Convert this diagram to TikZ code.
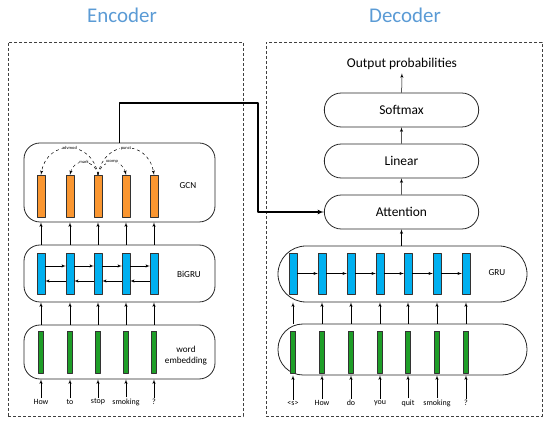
\documentclass[tikz,border=0pt]{standalone}
\usepackage[x11names, svgnames, rgb]{xcolor}
\usepackage{fontspec}
\setmainfont{Carlito}
\usepackage{tikz}
\usetikzlibrary{arrows,shapes}

\definecolor{TitleBlue}{RGB}{91,155,213}
\definecolor{BarOrange}{RGB}{250,150,48}
\definecolor{BarBlue}{RGB}{0,176,240}
\definecolor{BarGreen}{RGB}{30,158,40}

\tikzset{
  frame/.style={draw=black!75,dash pattern=on 3bp off 2bp,line width=0.6bp,rectangle},
  layer/.style={draw=black!85,line width=0.8bp,rectangle,rounded corners=16bp},
  block/.style={draw=black!85,line width=0.8bp,rounded rectangle,
    minimum width=161bp,minimum height=34bp,font=\fontsize{13.5}{15}\selectfont},
  orangebar/.style={draw=black!80,fill=BarOrange,line width=0.4bp,
    minimum width=8bp,minimum height=42bp,inner sep=0pt},
  bluebar/.style={draw=black!80,fill=BarBlue,line width=0.4bp,
    minimum width=8bp,minimum height=41bp,inner sep=0pt},
  greenbar/.style={draw=black!80,fill=BarGreen,line width=0.4bp,
    minimum width=5bp,minimum height=42bp,inner sep=0pt},
  word/.style={font=\fontsize{8}{9}\selectfont,inner sep=1bp},
  tag/.style={font=\fontsize{9.2}{11}\selectfont},
  dep/.style={font=\fontsize{4.5}{5}\selectfont,fill=white,inner sep=0.4bp},
}

\begin{document}
\begin{tikzpicture}[>=latex',line join=bevel,line width=0.5bp]
\useasboundingbox (0bp,0bp) rectangle (550bp,425bp);
%%
\node (title_enc) at (122bp,410bp)
  [text=TitleBlue,font=\fontsize{21}{24}\selectfont] {Encoder};
\node (title_dec) at (405bp,410bp)
  [text=TitleBlue,font=\fontsize{21}{24}\selectfont] {Decoder};
\node (frame_enc) at (125.5bp,196bp)
  [frame,minimum width=235bp,minimum height=374bp] {};
\node (frame_dec) at (404bp,196bp)
  [frame,minimum width=276bp,minimum height=374bp] {};

%% encoder layers
\node (gcn) at (119.5bp,242.5bp)
  [layer,minimum width=191bp,minimum height=79bp] {};
\node (bigru) at (119.5bp,151.5bp)
  [layer,minimum width=191bp,minimum height=57bp] {};
\node (emb) at (119.5bp,73bp)
  [layer,minimum width=191bp,minimum height=54bp] {};
\node (lbl_gcn) at (188bp,239bp) [tag] {GCN};
\node (lbl_bigru) at (189bp,151bp) [tag] {BiGRU};
\node (lbl_emb) at (186bp,69bp) [tag,align=center] {word\\embedding};

\node (g1) at (41bp,229bp) [orangebar] {};
\node (g2) at (70bp,229bp) [orangebar] {};
\node (g3) at (98bp,229bp) [orangebar] {};
\node (g4) at (126bp,229bp) [orangebar] {};
\node (g5) at (154bp,229bp) [orangebar] {};

\node (b1) at (41bp,151.5bp) [bluebar] {};
\node (b2) at (70bp,151.5bp) [bluebar] {};
\node (b3) at (98bp,151.5bp) [bluebar] {};
\node (b4) at (126bp,151.5bp) [bluebar] {};
\node (b5) at (154bp,151.5bp) [bluebar] {};

\node (e1) at (41bp,73bp) [greenbar] {};
\node (e2) at (70bp,73bp) [greenbar] {};
\node (e3) at (98bp,73bp) [greenbar] {};
\node (e4) at (126bp,73bp) [greenbar] {};
\node (e5) at (154bp,73bp) [greenbar] {};

\node (w_how) at (41bp,23bp) [word] {How};
\node (w_to) at (70bp,23bp) [word] {to};
\node (w_stop) at (98bp,23bp) [word] {stop};
\node (w_smoking) at (126bp,23bp) [word] {smoking};
\node (w_q) at (154bp,23bp) [word] {?};

%% dependency arcs
\draw [->,dashed]
  (g3.north) .. controls (92bp,286bp) and (47bp,286bp)
  .. (g1.north) node [pos=0.5,dep] {advmod};
\draw [->,dashed]
  (g3.north) .. controls (94bp,267bp) and (74bp,267bp)
  .. (g2.north) node [pos=0.5,dep] {mark};
\draw [->,dashed]
  (g3.north) .. controls (102bp,267bp) and (122bp,267bp)
  .. (g4.north) node [pos=0.5,dep] {xcomp};
\draw [->,dashed]
  (g3.north) .. controls (104bp,286bp) and (148bp,286bp)
  .. (g5.north) node [pos=0.5,dep] {punct};

%% encoder arrows
\draw [->] (w_how) -- (w_how |- emb.south);
\draw [->] (w_to) -- (w_to |- emb.south);
\draw [->] (w_stop) -- (w_stop |- emb.south);
\draw [->] (w_smoking) -- (w_smoking |- emb.south);
\draw [->] (w_q) -- (w_q |- emb.south);

\draw [->] (e1 |- emb.north) -- (b1 |- bigru.south);
\draw [->] (e2 |- emb.north) -- (b2 |- bigru.south);
\draw [->] (e3 |- emb.north) -- (b3 |- bigru.south);
\draw [->] (e4 |- emb.north) -- (b4 |- bigru.south);
\draw [->] (e5 |- emb.north) -- (b5 |- bigru.south);

\draw [->] (b1 |- bigru.north) -- (g1 |- gcn.south);
\draw [->] (b2 |- bigru.north) -- (g2 |- gcn.south);
\draw [->] (b3 |- bigru.north) -- (g3 |- gcn.south);
\draw [->] (b4 |- bigru.north) -- (g4 |- gcn.south);
\draw [->] (b5 |- bigru.north) -- (g5 |- gcn.south);

\draw [->] ([yshift=7.5bp]b1.east) -- ([yshift=7.5bp]b2.west);
\draw [->] ([yshift=7.5bp]b2.east) -- ([yshift=7.5bp]b3.west);
\draw [->] ([yshift=7.5bp]b3.east) -- ([yshift=7.5bp]b4.west);
\draw [->] ([yshift=7.5bp]b4.east) -- ([yshift=7.5bp]b5.west);
\draw [->] ([yshift=-7.5bp]b5.west) -- ([yshift=-7.5bp]b4.east);
\draw [->] ([yshift=-7.5bp]b4.west) -- ([yshift=-7.5bp]b3.east);
\draw [->] ([yshift=-7.5bp]b3.west) -- ([yshift=-7.5bp]b2.east);
\draw [->] ([yshift=-7.5bp]b2.west) -- ([yshift=-7.5bp]b1.east);

%% decoder blocks
\node (out_prob) at (402bp,361bp)
  [font=\fontsize{13.5}{15}\selectfont] {Output probabilities};
\node (softmax) at (401.5bp,315bp) [block] {Softmax};
\node (linear) at (401.5bp,264bp) [block] {Linear};
\node (attention) at (401.5bp,213bp) [block] {Attention};

\node (gru) at (402.5bp,151bp)
  [layer,rounded corners=28bp,minimum width=249bp,minimum height=56bp] {};
\node (demb) at (402.5bp,75.5bp)
  [layer,rounded corners=25bp,minimum width=249bp,minimum height=51bp] {};
\node (lbl_gru) at (497bp,152bp) [tag] {GRU};

\node (r1) at (293bp,151.5bp) [bluebar] {};
\node (r2) at (322bp,151.5bp) [bluebar] {};
\node (r3) at (351bp,151.5bp) [bluebar] {};
\node (r4) at (380bp,151.5bp) [bluebar] {};
\node (r5) at (408bp,151.5bp) [bluebar] {};
\node (r6) at (437bp,151.5bp) [bluebar] {};
\node (r7) at (466bp,151.5bp) [bluebar] {};

\node (d1) at (293bp,72.5bp) [greenbar] {};
\node (d2) at (322bp,72.5bp) [greenbar] {};
\node (d3) at (351bp,72.5bp) [greenbar] {};
\node (d4) at (380bp,72.5bp) [greenbar] {};
\node (d5) at (408bp,72.5bp) [greenbar] {};
\node (d6) at (437bp,72.5bp) [greenbar] {};
\node (d7) at (466bp,72.5bp) [greenbar] {};

\node (v_s) at (293bp,22bp) [word] {<s>};
\node (v_how) at (322bp,22bp) [word] {How};
\node (v_do) at (351bp,22bp) [word] {do};
\node (v_you) at (380bp,22bp) [word] {you};
\node (v_quit) at (408bp,22bp) [word] {quit};
\node (v_smoking) at (437bp,22bp) [word] {smoking};
\node (v_q) at (466bp,22bp) [word] {?};

%% decoder arrows
\draw [->] (v_s) -- (v_s |- demb.south);
\draw [->] (v_how) -- (v_how |- demb.south);
\draw [->] (v_do) -- (v_do |- demb.south);
\draw [->] (v_you) -- (v_you |- demb.south);
\draw [->] (v_quit) -- (v_quit |- demb.south);
\draw [->] (v_smoking) -- (v_smoking |- demb.south);
\draw [->] (v_q) -- (v_q |- demb.south);

\draw [->] (d1 |- demb.north) -- (r1 |- gru.south);
\draw [->] (d2 |- demb.north) -- (r2 |- gru.south);
\draw [->] (d3 |- demb.north) -- (r3 |- gru.south);
\draw [->] (d4 |- demb.north) -- (r4 |- gru.south);
\draw [->] (d5 |- demb.north) -- (r5 |- gru.south);
\draw [->] (d6 |- demb.north) -- (r6 |- gru.south);
\draw [->] (d7 |- demb.north) -- (r7 |- gru.south);

\draw [->] (r1) -- (r2);
\draw [->] (r2) -- (r3);
\draw [->] (r3) -- (r4);
\draw [->] (r4) -- (r5);
\draw [->] (r5) -- (r6);
\draw [->] (r6) -- (r7);

\draw [->] (gru.north -| attention.south) -- (attention.south);
\draw [->] (attention) -- (linear);
\draw [->] (linear) -- (softmax);
\draw [->] (softmax) -- (out_prob);

%% encoder output to attention
\coordinate (bend) at (258bp,322bp);
\draw [->,line width=1.2bp] (gcn.north) |- (bend) |- (attention.west);
\end{tikzpicture}
\end{document}
